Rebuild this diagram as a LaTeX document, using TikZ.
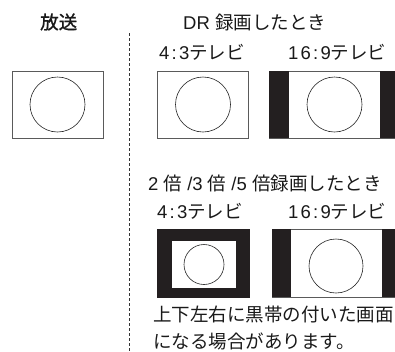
\documentclass[tikz,border=0pt]{standalone}
\usepackage{fontspec}
\newfontfamily\jpfont{Noto Sans CJK JP}
\newfontfamily\jpmed[FakeBold=1.2]{Noto Sans CJK JP}
\newfontfamily\lat[LetterSpace=12]{Liberation Sans}
\newfontfamily\latn{Liberation Sans}
\definecolor{barblack}{HTML}{231F20}
\definecolor{framegray}{HTML}{5A5A5A}
\tikzset{
  lbl/.style={inner sep=0pt, anchor=west, font=\jpfont\fontsize{18.5}{22}\selectfont, text=black!90},
  frame/.style={draw=framegray, line width=0.9pt, fill=white},
  bar/.style={fill=barblack, draw=none},
  disc/.style={draw=black!85, line width=0.6pt},
}
\begin{document}
\begin{tikzpicture}[x=1pt,y=-1pt]
\useasboundingbox (0,0) rectangle (395,351);
% labels
\node[lbl, font=\jpmed\fontsize{18.5}{22}\selectfont] (bcast) at (40,22) {放送};
\node[lbl] (drhead) at (183,22) {{\latn DR }録画したとき};
\node[lbl] (dr43) at (159,52) {{\lat 4:3}テレビ};
\node[lbl] (dr169) at (288,52) {{\lat 16:9}テレビ};
\node[lbl] (xhead) at (148,183) {{\lat 2}{\latn{} }倍{\latn{} /}{\lat 3}{\latn{} }倍{\latn{} /}{\lat 5}{\latn{} }倍録画したとき};
\node[lbl] (x43) at (157,211) {{\lat 4:3}テレビ};
\node[lbl] (x169) at (288,211) {{\lat 16:9}テレビ};
\node[lbl] (note1) at (153,314) {上下左右に黒帯の付いた画面};
\node[lbl] (note2) at (153,341) {になる場合があります。};
% divider
\coordinate (dtop) at (129,33);
\coordinate (dbot) at (129,351);
\draw[line width=0.9pt, dash pattern=on 3pt off 2pt, black!80] (dtop) -- (dbot);
% broadcast screen
\draw[frame] (12,71) rectangle (103,138);
\draw[disc] (57.5,104.5) circle (27.5);
% DR 4:3
\draw[frame] (157,71) rectangle (248,138);
\draw[disc] (203,104.5) circle (27.5);
% DR 16:9
\draw[frame] (269,71) rectangle (396,138);
\fill[bar] (269,71) rectangle (289,138);
\fill[bar] (380,71) rectangle (396,138);
\draw[disc] (334.5,104.5) circle (27.5);
% x 4:3
\fill[bar] (157,229) rectangle (250,298);
\draw[fill=white, draw=none] (172,241) rectangle (236,288);
\draw[disc] (204,264.5) circle (20);
% x 16:9
\draw[frame] (272,229) rectangle (396,297);
\fill[bar] (272,229) rectangle (291,297);
\fill[bar] (382,229) rectangle (396,297);
\draw[disc] (336,266) circle (27);
\end{tikzpicture}
\end{document}
